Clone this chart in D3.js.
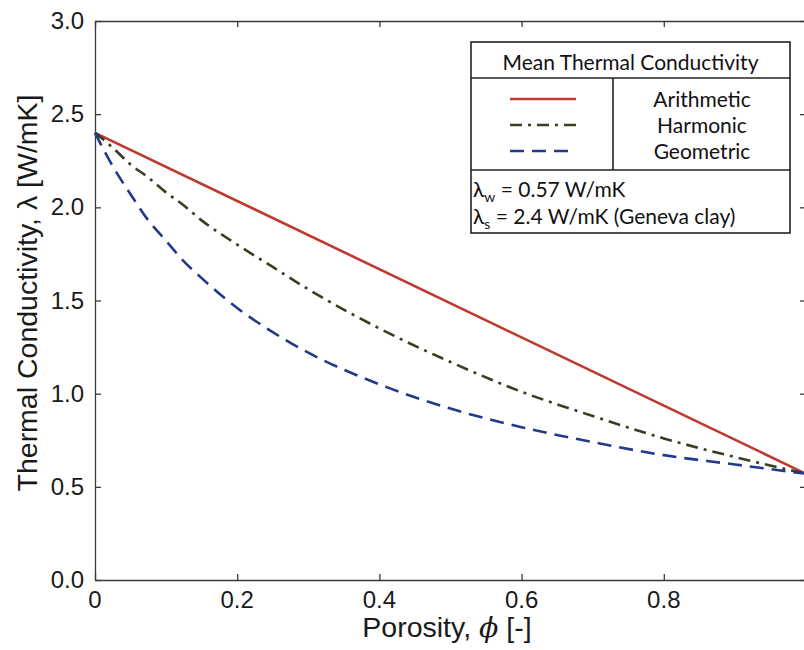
<!DOCTYPE html>
<html>
<head>
<meta charset="utf-8">
<script src="https://cdnjs.cloudflare.com/ajax/libs/d3/7.8.5/d3.min.js"></script>
<style>
  body { margin: 0; background: #fff; }
  svg { display: block; }
  .tick-label { font-family: "Liberation Sans", Arial, sans-serif; font-size: 24px; fill: #1a1a1a; }
  .axis-title { font-family: "Liberation Sans", Arial, sans-serif; font-size: 28.5px; fill: #1a1a1a; }
  .legend-text { font-family: Lato, "Open Sans", sans-serif; font-size: 21px; fill: #111; }
</style>
</head>
<body>
<svg id="chart" width="804" height="650"></svg>
<script>
// values
var porosityLine = [0, 1.0];
var arithmetic   = [2.40, 0.57];

var porosity  = [0, 0.025, 0.05, 0.075, 0.1, 0.125, 0.15, 0.2, 0.25, 0.3, 0.4, 0.5, 0.6, 0.7, 0.8, 0.9, 1.0];
var harmonic  = [2.40, 2.32, 2.23, 2.16, 2.08, 2.01, 1.93, 1.80, 1.68, 1.56, 1.35, 1.17, 1.01, 0.88, 0.76, 0.66, 0.57];
var geometric = [2.40, 2.22, 2.07, 1.93, 1.82, 1.71, 1.62, 1.46, 1.33, 1.22, 1.05, 0.92, 0.82, 0.74, 0.67, 0.62, 0.57];

var xTicks = [0, 0.2, 0.4, 0.6, 0.8];
var yTicks = [0, 0.5, 1.0, 1.5, 2.0, 2.5, 3.0];

var seriesNames = ['Arithmetic', 'Harmonic', 'Geometric'];
var seriesX = [porosityLine, porosity, porosity];
var seriesValues = [arithmetic, harmonic, geometric];
var seriesColors = ['#c0392e', '#34401f', '#22398c'];
var seriesDash = [null, '12,6,3,6', '14,8'];

var svg = d3.select('#chart');
var margin = { left: 95, right: 806, top: 21, bottom: 580 };

var x = d3.scaleLinear().domain([0, 1]).range([margin.left, margin.right]);
var y = d3.scaleLinear().domain([0, 3]).range([margin.bottom, margin.top]);

// frame with inward ticks on all four sides
var axisColor = '#3a3a3a';
function styleAxis(g) {
  g.selectAll('line,path').attr('stroke', axisColor).attr('stroke-width', 1.3);
}
svg.append('g')
  .attr('transform', 'translate(0,' + margin.bottom + ')')
  .call(d3.axisBottom(x).tickValues(xTicks).tickSizeInner(-6).tickSizeOuter(0).tickFormat(''))
  .call(styleAxis);
svg.append('g')
  .attr('transform', 'translate(0,' + margin.top + ')')
  .call(d3.axisTop(x).tickValues(xTicks).tickSizeInner(-6).tickSizeOuter(0).tickFormat(''))
  .call(styleAxis);
svg.append('g')
  .attr('transform', 'translate(' + margin.left + ',0)')
  .call(d3.axisLeft(y).tickValues(yTicks).tickSizeInner(-6).tickSizeOuter(0).tickFormat(''))
  .call(styleAxis);
svg.append('g')
  .attr('transform', 'translate(' + margin.right + ',0)')
  .call(d3.axisRight(y).tickValues(yTicks).tickSizeInner(-6).tickSizeOuter(0).tickFormat(''))
  .call(styleAxis);

// tick labels
svg.selectAll('.xlab')
  .data(xTicks)
  .enter().append('text')
  .attr('class', 'tick-label')
  .attr('x', function(d) { return x(d); })
  .attr('y', margin.bottom + 28)
  .attr('text-anchor', 'middle')
  .text(function(d) { return d === 0 ? '0' : d3.format('.1f')(d); });
svg.selectAll('.ylab')
  .data(yTicks)
  .enter().append('text')
  .attr('class', 'tick-label')
  .attr('x', margin.left - 11)
  .attr('y', function(d) { return y(d) + 8; })
  .attr('text-anchor', 'end')
  .text(function(d) { return d3.format('.1f')(d); });

// axis titles
var xt = svg.append('text')
  .attr('class', 'axis-title')
  .attr('x', 447)
  .attr('y', 637)
  .attr('text-anchor', 'middle');
xt.append('tspan').text('Porosity, ');
xt.append('tspan').attr('font-style', 'italic').attr('font-family', '"DejaVu Serif", serif').text('\u03d5');
xt.append('tspan').text(' [-]');

svg.append('text')
  .attr('class', 'axis-title')
  .attr('font-size', '31px')
  .attr('transform', 'translate(37,' + 293 + ') rotate(-90)')
  .attr('text-anchor', 'middle')
  .text('Thermal Conductivity, \u03bb [W/mK]');

// curves
var line = d3.line()
  .x(function(d) { return x(d[0]); })
  .y(function(d) { return y(d[1]); })
  .curve(d3.curveMonotoneX);

seriesValues.forEach(function(vals, i) {
  svg.append('path')
    .datum(seriesX[i].map(function(p, j) { return [p, vals[j]]; }))
    .attr('fill', 'none')
    .attr('stroke', seriesColors[i])
    .attr('stroke-width', 2.6)
    .attr('stroke-dasharray', seriesDash[i])
    .attr('d', line);
});

// legend table
var lg = svg.append('g');
var bx0 = 471, bx1 = 790, by0 = 42, by1 = 233, row1 = 78, row2 = 170, divX = 613;
lg.append('rect')
  .attr('x', bx0).attr('y', by0)
  .attr('width', bx1 - bx0).attr('height', by1 - by0)
  .attr('fill', '#fff').attr('stroke', '#222').attr('stroke-width', 1.6);
[row1, row2].forEach(function(ry) {
  lg.append('line').attr('x1', bx0).attr('x2', bx1).attr('y1', ry).attr('y2', ry)
    .attr('stroke', '#222').attr('stroke-width', 1.6);
});
lg.append('line').attr('x1', divX).attr('x2', divX).attr('y1', row1).attr('y2', row2)
  .attr('stroke', '#222').attr('stroke-width', 1.6);

lg.append('text')
  .attr('class', 'legend-text')
  .attr('x', (bx0 + bx1) / 2)
  .attr('y', 70)
  .attr('text-anchor', 'middle')
  .text('Mean Thermal Conductivity');

var rowY = [99, 125, 151];
seriesNames.forEach(function(name, i) {
  lg.append('line')
    .attr('x1', 510).attr('x2', 576)
    .attr('y1', rowY[i]).attr('y2', rowY[i])
    .attr('stroke', seriesColors[i])
    .attr('stroke-width', 2.6)
    .attr('stroke-dasharray', seriesDash[i]);
  lg.append('text')
    .attr('class', 'legend-text')
    .attr('x', 702)
    .attr('y', rowY[i] + 8)
    .attr('text-anchor', 'middle')
    .text(name);
});

var t1 = lg.append('text').attr('class', 'legend-text').attr('x', 473).attr('y', 197);
t1.append('tspan').text('\u03bb');
t1.append('tspan').attr('font-size', '14px').attr('dy', 5).text('w');
t1.append('tspan').attr('dy', -5).text(' = 0.57 W/mK');
var t2 = lg.append('text').attr('class', 'legend-text').attr('x', 473).attr('y', 224);
t2.append('tspan').text('\u03bb');
t2.append('tspan').attr('font-size', '14px').attr('dy', 5).text('s');
t2.append('tspan').attr('dy', -5).text(' = 2.4 W/mK (Geneva clay)');
</script>
</body>
</html>
